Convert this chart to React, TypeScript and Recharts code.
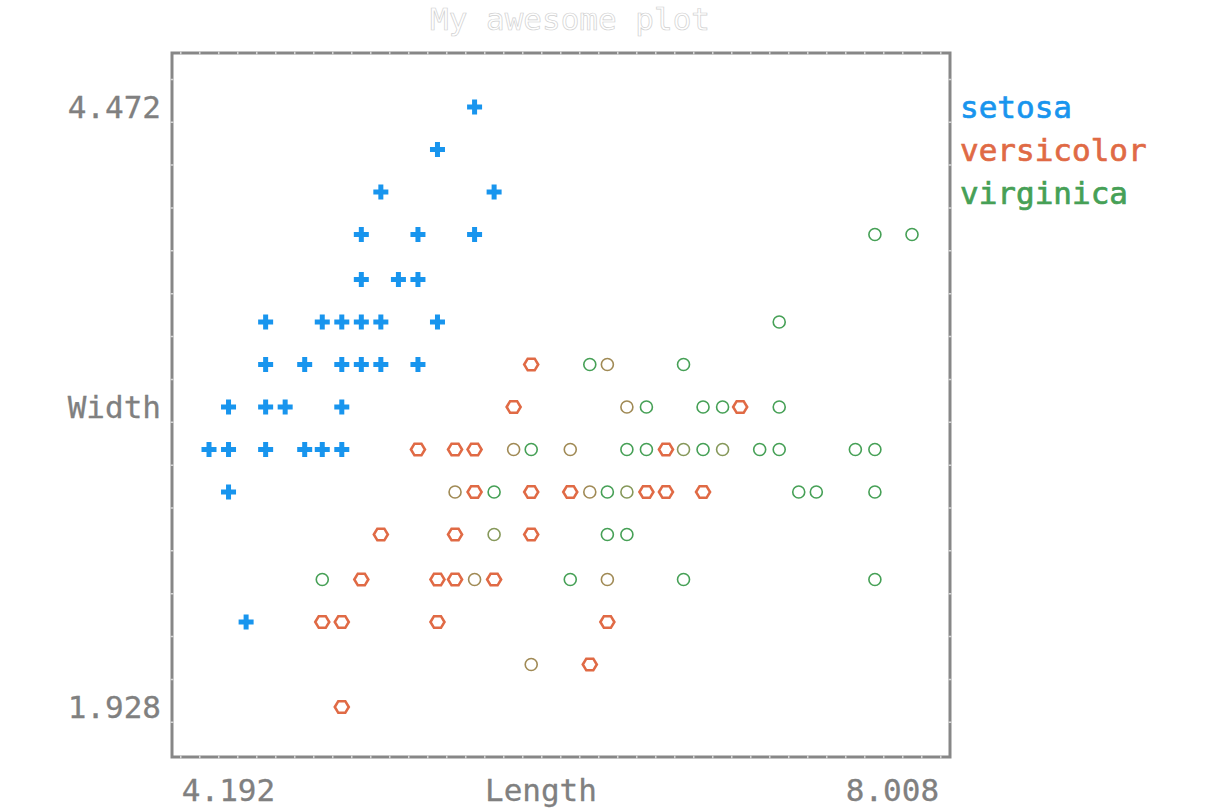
import { ScatterChart, Scatter, XAxis, YAxis, ReferenceArea } from 'recharts'

type Pt = { length: number; width: number }
const pts = (rows: number[][]): Pt[] => rows.map(([length, width]) => ({ length, width }))

// values (positions snap to a coarse character grid)
const setosa = pts([
  [5.66, 4.4],
  [5.47, 4.23],
  [5.18, 4.06], [5.76, 4.06],
  [5.08, 3.89], [5.37, 3.89], [5.66, 3.89],
  [5.08, 3.71], [5.27, 3.71], [5.37, 3.71],
  [4.59, 3.54], [4.88, 3.54], [4.98, 3.54], [5.08, 3.54], [5.18, 3.54], [5.47, 3.54],
  [4.59, 3.37], [4.79, 3.37], [4.98, 3.37], [5.08, 3.37], [5.18, 3.37], [5.37, 3.37],
  [4.4, 3.2], [4.59, 3.2], [4.69, 3.2], [4.98, 3.2],
  [4.3, 3.03], [4.4, 3.03], [4.59, 3.03], [4.79, 3.03], [4.88, 3.03], [4.98, 3.03],
  [4.4, 2.86],
  [4.49, 2.34],
])

const versicolor = pts([
  [5.95, 3.37],
  [5.86, 3.2], [7.02, 3.2],
  [5.37, 3.03], [5.56, 3.03], [5.66, 3.03], [6.64, 3.03],
  [5.66, 2.86], [5.95, 2.86], [6.15, 2.86], [6.54, 2.86], [6.64, 2.86], [6.83, 2.86],
  [5.18, 2.69], [5.56, 2.69], [5.95, 2.69],
  [5.08, 2.51], [5.47, 2.51], [5.56, 2.51], [5.76, 2.51],
  [4.88, 2.34], [4.98, 2.34], [5.47, 2.34], [6.34, 2.34],
  [6.25, 2.17],
  [4.98, 2.0],
])

const virginica = pts([
  [7.71, 3.89], [7.9, 3.89],
  [7.22, 3.54],
  [6.25, 3.37], [6.73, 3.37],
  [6.54, 3.2], [6.83, 3.2], [6.93, 3.2], [7.22, 3.2],
  [5.95, 3.03], [6.44, 3.03], [6.54, 3.03], [6.83, 3.03], [7.12, 3.03], [7.22, 3.03], [7.61, 3.03], [7.71, 3.03],
  [5.76, 2.86], [6.34, 2.86], [7.32, 2.86], [7.41, 2.86], [7.71, 2.86],
  [6.34, 2.69], [6.44, 2.69],
  [4.88, 2.51], [6.15, 2.51], [6.73, 2.51], [7.71, 2.51],
])

// cells where versicolor and virginica overlap, drawn in a blended colour
const overlapBrown = pts([
  [6.34, 3.37],
  [6.44, 3.2],
  [5.86, 3.03], [6.15, 3.03],
  [5.56, 2.86], [6.25, 2.86],
  [5.66, 2.51], [6.34, 2.51],
  [5.95, 2.17],
])
const overlapOlive = pts([
  [6.73, 3.03], [6.93, 3.03],
  [6.44, 2.86],
  [5.76, 2.69],
])

const xTicks = [4.4, 6.0, 7.8]
const xTickLabels = ['4.192', 'Length', '8.008']
const yTicks = [4.4, 3.2, 2.0]
const yTickLabels = ['4.472', 'Width', '1.928']
const xDomain = [4.1105, 8.0946]
const yDomain = [1.8, 4.616]

const legendNames = ['setosa', 'versicolor', 'virginica']
const title = 'My awesome plot'

const FONT = '"DejaVu Sans Mono", monospace'
const GREY = '#808080'
const BLUE = '#1895ee'
const ORANGE = '#e06a45'
const GREEN = '#46a056'
const BROWN = '#a08a55'
const OLIVE = '#86985a'
const seriesColors = [BLUE, ORANGE, GREEN]

const Plus = ({ cx, cy }: any) => (
  <g fill={BLUE}>
    <rect x={cx - 7.5} y={cy - 2.5} width={15} height={5} />
    <rect x={cx - 2.5} y={cy - 7.5} width={5} height={15} />
  </g>
)

const Hex = ({ cx, cy }: any) => (
  <polygon
    points={`${cx - 7},${cy} ${cx - 3.5},${cy - 5.8} ${cx + 3.5},${cy - 5.8} ${cx + 7},${cy} ${cx + 3.5},${cy + 5.8} ${cx - 3.5},${cy + 5.8}`}
    fill="none"
    stroke={ORANGE}
    strokeWidth={2.6}
  />
)

const ring = (color: string) => ({ cx, cy }: any) => (
  <circle cx={cx} cy={cy} r={6} fill="none" stroke={color} strokeWidth={1.6} />
)

// frame with the little joints of the text-grid box
const Frame = ({ x, y, width, height }: any) => {
  const joint = '#d6d6d6'
  return (
    <g>
      <rect x={x} y={y} width={width} height={height} fill="none" stroke="#878787" strokeWidth={3} />
      <line x1={x} y1={y} x2={x + width} y2={y} stroke={joint} strokeWidth={3} strokeDasharray="1.5 17.5" strokeDashoffset={-8} />
      <line x1={x} y1={y + height} x2={x + width} y2={y + height} stroke={joint} strokeWidth={3} strokeDasharray="1.5 17.5" strokeDashoffset={-8} />
      <line x1={x} y1={y} x2={x} y2={y + height} stroke={joint} strokeWidth={3} strokeDasharray="1.5 41.36" strokeDashoffset={-68.5} />
      <line x1={x + width} y1={y} x2={x + width} y2={y + height} stroke={joint} strokeWidth={3} strokeDasharray="1.5 41.36" strokeDashoffset={-68.5} />
    </g>
  )
}

const XTick = ({ x, y, payload, index }: any) => (
  <text x={x} y={y + 44} textAnchor="middle" fill={GREY} stroke={GREY} strokeWidth={0.3} fontFamily={FONT} fontSize={31}>
    {xTickLabels[index] ?? payload.value}
  </text>
)

const YTick = ({ x, y, payload, index }: any) => (
  <text x={x - 11} y={y + 11} textAnchor="end" fill={GREY} stroke={GREY} strokeWidth={0.3} fontFamily={FONT} fontSize={31}>
    {yTickLabels[index] ?? payload.value}
  </text>
)

export default function App() {
  return (
    <div style={{ position: 'absolute', left: 0, top: 0, width: 1216, height: 811, background: '#fff' }}>
      <ScatterChart width={1216} height={811} margin={{ top: 53, right: 266, bottom: 53, left: 171 }}>
        <XAxis
          type="number"
          dataKey="length"
          domain={xDomain}
          ticks={xTicks}
          interval={0}
          height={1}
          tickSize={0}
          tickMargin={0}
          tickLine={false}
          axisLine={false}
          tick={<XTick />}
          allowDataOverflow
        />
        <YAxis
          type="number"
          dataKey="width"
          domain={yDomain}
          ticks={yTicks}
          interval={0}
          width={1}
          tickSize={0}
          tickMargin={0}
          tickLine={false}
          axisLine={false}
          tick={<YTick />}
          allowDataOverflow
        />
        <ReferenceArea x1={xDomain[0]} x2={xDomain[1]} y1={yDomain[0]} y2={yDomain[1]} shape={<Frame />} ifOverflow="visible" />
        <Scatter data={setosa} shape={<Plus />} isAnimationActive={false} />
        <Scatter data={versicolor} shape={<Hex />} isAnimationActive={false} />
        <Scatter data={virginica} shape={ring(GREEN)} isAnimationActive={false} />
        <Scatter data={overlapBrown} shape={ring(BROWN)} isAnimationActive={false} />
        <Scatter data={overlapOlive} shape={ring(OLIVE)} isAnimationActive={false} />
      </ScatterChart>
      <svg width={1216} height={811} style={{ position: 'absolute', left: 0, top: 0, pointerEvents: 'none' }}>
        <text x={570} y={30} textAnchor="middle" fontFamily={FONT} fontSize={31} fill="#fff" stroke="#d0d0d0" strokeWidth={0.7}>
          {title}
        </text>
        {legendNames.map((name, i) => (
          <text key={name} x={960} y={118 + i * 42.86} fontFamily={FONT} fontSize={31} fill={seriesColors[i]} stroke={seriesColors[i]} strokeWidth={0.7}>
            {name}
          </text>
        ))}
      </svg>
    </div>
  )
}
